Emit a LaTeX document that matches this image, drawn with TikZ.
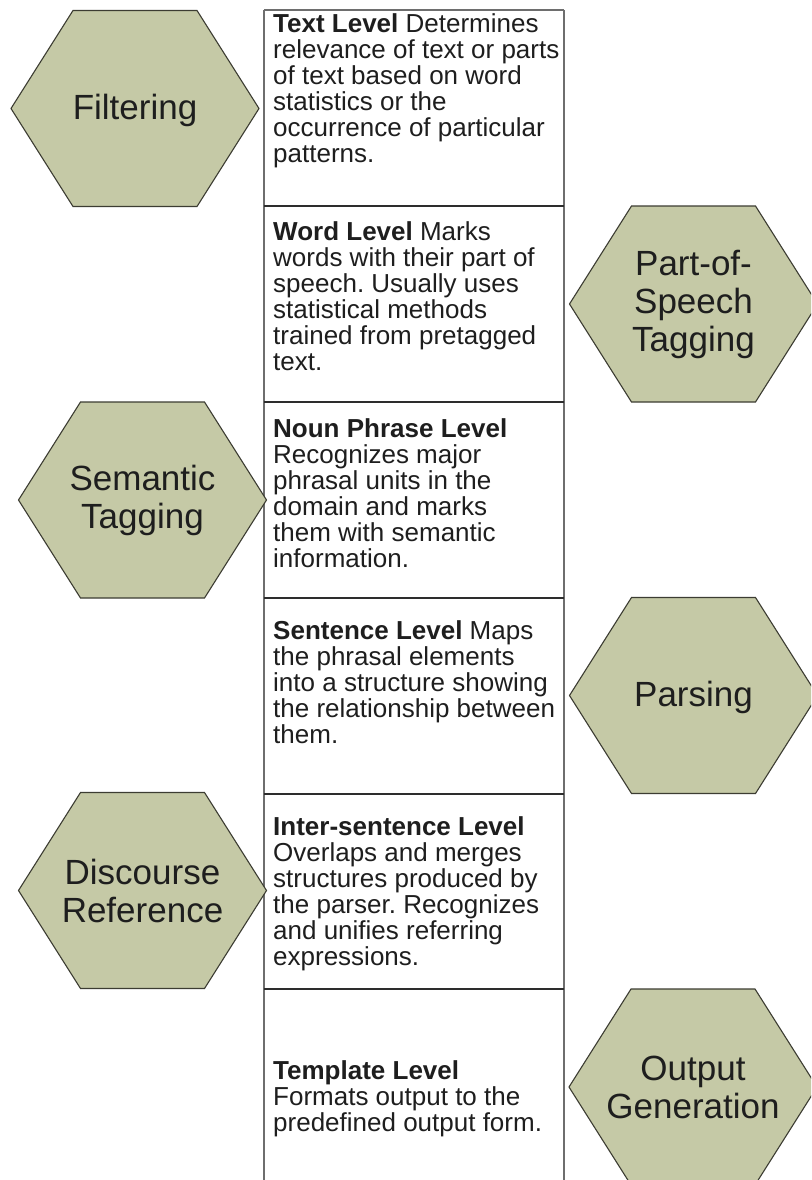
\documentclass[tikz,border=0pt]{standalone}
\usepackage{fontspec}
\setmainfont{Liberation Sans}
\frenchspacing
\definecolor{hexfill}{RGB}{197,201,166}
\definecolor{hexline}{RGB}{60,60,50}
\definecolor{framegray}{RGB}{110,110,110}
\definecolor{ruledark}{RGB}{45,45,45}
\definecolor{inkdark}{RGB}{30,30,30}
\tikzset{
  hexshape/.style={fill=hexfill, draw=hexline, line width=1.1pt, line join=miter},
  pics/hexa/.style={code={
    \draw[hexshape] (-124,0) -- (-62,-98) -- (62,-98) -- (124,0) -- (62,98) -- (-62,98) -- cycle;}},
  hexlabel/.style={align=center, inner sep=0pt, text=inkdark,
    font=\fontsize{35}{38}\selectfont},
  levelbox/.style={minimum width=300pt, minimum height=196pt, inner sep=0pt},
  desc/.style={align=left, inner sep=0pt, text=inkdark, anchor=north west,
    font=\fontsize{26}{26}\selectfont},
  frame/.style={draw=framegray, line width=2pt},
  rule/.style={draw=ruledark, line width=1.8pt}
}
\begin{document}
\begin{tikzpicture}[x=1pt,y=-1pt]
\clip (0,0) rectangle (811,1180);
\fill[white] (0,0) rectangle (811,1180);

% column of processing levels
\node[levelbox] (b1) at (414,108) {};
\node[levelbox] (b2) at (414,304) {};
\node[levelbox] (b3) at (414,500) {};
\node[levelbox] (b4) at (414,695.5) {};
\node[levelbox] (b5) at (414,891) {};
\node[levelbox] (b6) at (414,1087) {};

\draw[frame] (b1.north west) -- (b6.south west);
\draw[frame] (b1.north east) -- (b6.south east);
\draw[frame] (b1.north west) -- (b1.north east);
\draw[rule] (b1.south west) -- (b1.south east);
\draw[rule] (b2.south west) -- (b2.south east);
\draw[rule] (b3.south west) -- (b3.south east);
\draw[rule] (b4.south west) -- (b4.south east);
\draw[rule] (b5.south west) -- (b5.south east);

\node[desc] (t1) at (273,13) {\textbf{Text Level} Determines\\relevance of text or parts\\of text based on word\\statistics or the\\occurrence of particular\\patterns.};
\node[desc] (t2) at (273,221) {\textbf{Word Level} Marks\\words with their part of\\speech. Usually uses\\statistical methods\\trained from pretagged\\text.};
\node[desc] (t3) at (273,418) {\textbf{Noun Phrase Level}\\Recognizes major\\phrasal units in the\\domain and marks\\them with semantic\\information.};
\node[desc] (t4) at (273,620) {\textbf{Sentence Level} Maps\\the phrasal elements\\into a structure showing\\the relationship between\\them.};
\node[desc] (t5) at (273,816) {\textbf{Inter-sentence Level}\\Overlaps and merges\\structures produced by\\the parser. Recognizes\\and unifies referring\\expressions.};
\node[desc] (t6) at (273,1060) {\textbf{Template Level}\\Formats output to the\\predefined output form.};

% processing stages
\pic at (135,108.5) {hexa};
\node[hexlabel] (filtering) at (135,110.5) {Filtering};
\pic at (142.5,500) {hexa};
\node[hexlabel] (semantic) at (142.5,500) {Semantic\\Tagging};
\pic at (142.5,890.5) {hexa};
\node[hexlabel] (discourse) at (142.5,890.5) {Discourse\\Reference};
\pic at (693.5,304) {hexa};
\node[hexlabel] (pos) at (693.5,304) {Part-of-\\Speech\\Tagging};
\pic at (693.5,695.5) {hexa};
\node[hexlabel] (parsing) at (693.5,697.5) {Parsing};
\pic at (693,1087) {hexa};
\node[hexlabel] (output) at (693,1087) {Output\\Generation};
\end{tikzpicture}
\end{document}
